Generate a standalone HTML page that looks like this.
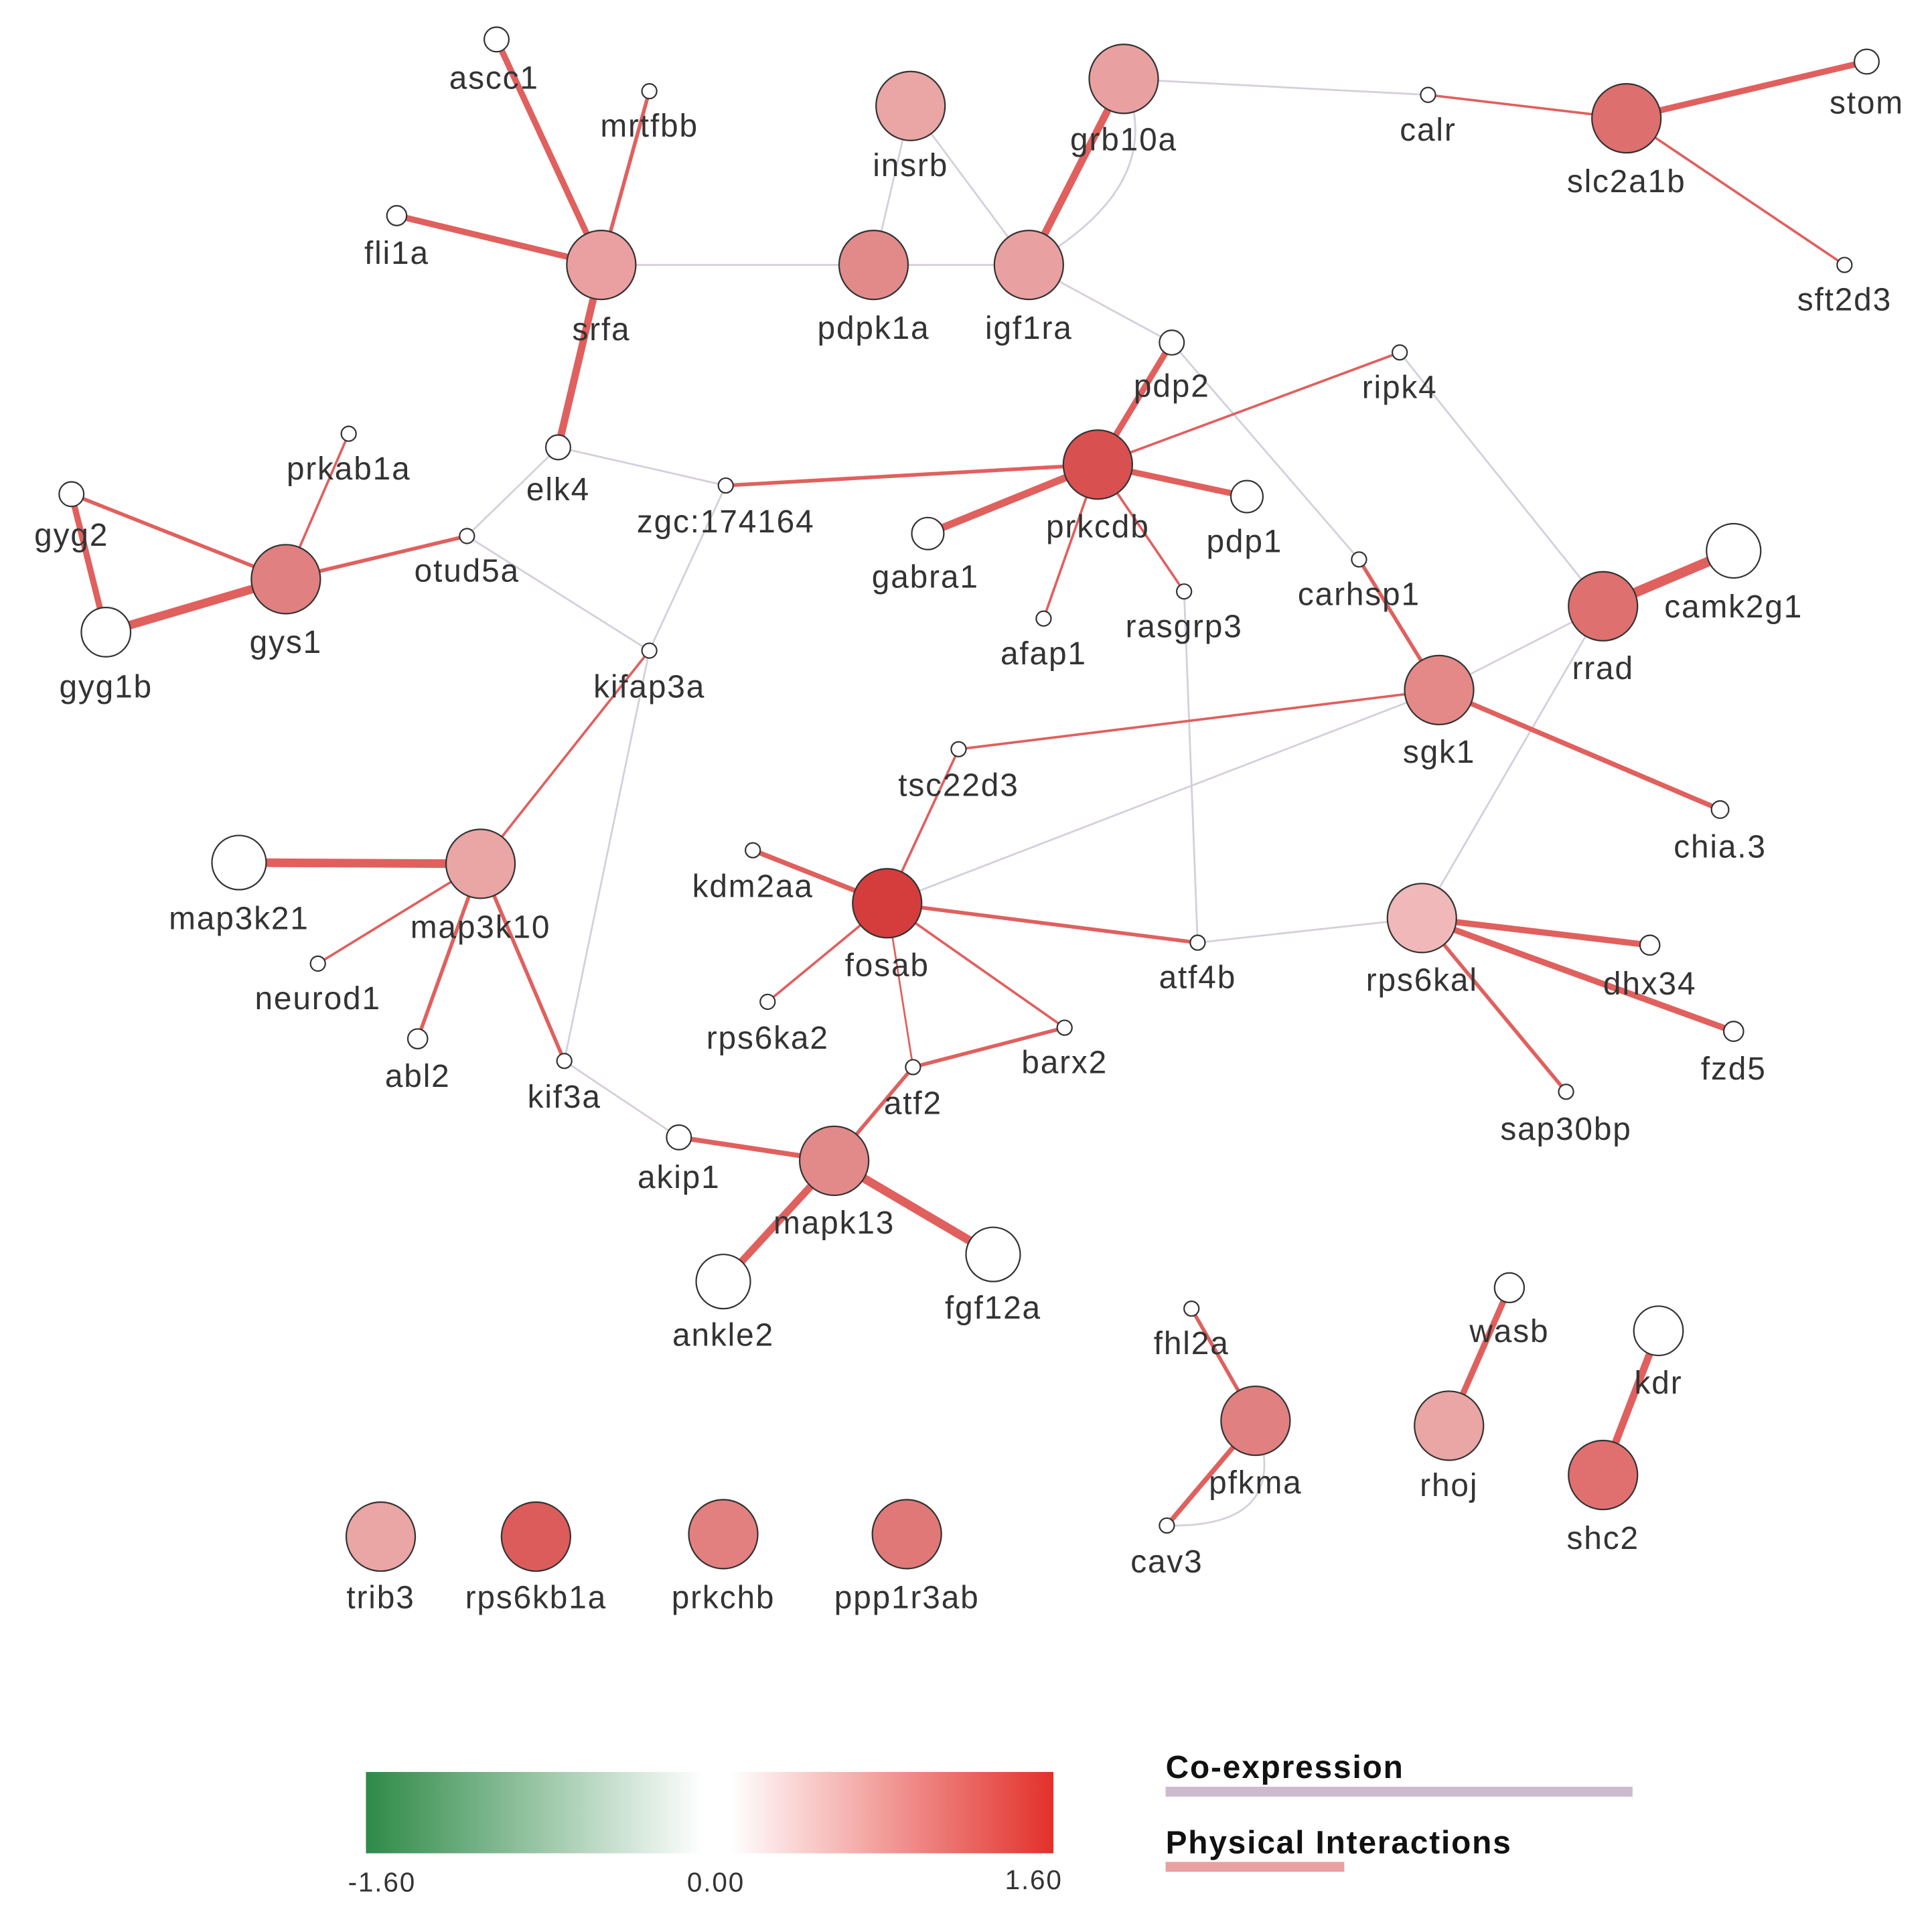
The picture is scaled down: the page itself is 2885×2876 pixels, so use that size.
<!DOCTYPE html>
<html><head><meta charset="utf-8"><style>html,body{margin:0;padding:0;background:#fff}svg{display:block}text{font-family:"Liberation Sans",sans-serif;font-size:26px;fill:#333;text-anchor:middle;letter-spacing:1px}</style></head><body>
<svg width="2885" height="2876" viewBox="0 0 1568 1563" preserveAspectRatio="none" xmlns="http://www.w3.org/2000/svg">
<defs><linearGradient id="g" x1="0" x2="1"><stop offset="0" stop-color="#2e8a47"/><stop offset="0.49" stop-color="#fff"/><stop offset="0.53" stop-color="#fff"/><stop offset="1" stop-color="#e3302a"/></linearGradient></defs>
<g stroke="#d5cedb" stroke-width="1.5" fill="none">
<line x1="488" y1="215" x2="709" y2="215"/><line x1="709" y1="215" x2="835" y2="215"/><line x1="739" y1="86" x2="709" y2="215"/><line x1="739" y1="86" x2="835" y2="215"/><line x1="912" y1="64" x2="1159" y2="77"/><path d="M912 64 Q950 150 835 215"/><line x1="835" y1="215" x2="951" y2="278"/><line x1="951" y1="278" x2="1103" y2="454"/><line x1="1136" y1="286" x2="1301" y2="492"/><line x1="453" y1="363" x2="589" y2="394"/><line x1="453" y1="363" x2="379" y2="435"/><line x1="379" y1="435" x2="527" y2="528"/><line x1="589" y1="394" x2="527" y2="528"/><line x1="527" y1="528" x2="458" y2="861"/><line x1="458" y1="861" x2="551" y2="923"/><line x1="961" y1="480" x2="972" y2="765"/><line x1="972" y1="765" x2="1154" y2="745"/><line x1="720" y1="733" x2="1168" y2="560"/><line x1="1168" y1="560" x2="1301" y2="492"/><line x1="1301" y1="492" x2="1154" y2="745"/><path d="M1019 1153 Q1050 1240 947 1238"/>
</g>
<g stroke="#e0605e" stroke-linecap="round" fill="none">
<line x1="403" y1="32" x2="488" y2="215" stroke-width="5"/><line x1="527" y1="74" x2="488" y2="215" stroke-width="3"/><line x1="322" y1="175" x2="488" y2="215" stroke-width="5"/><line x1="488" y1="215" x2="453" y2="363" stroke-width="6"/><line x1="912" y1="64" x2="835" y2="215" stroke-width="6"/><line x1="1159" y1="77" x2="1320" y2="96" stroke-width="2"/><line x1="1320" y1="96" x2="1515" y2="50" stroke-width="5"/><line x1="1320" y1="96" x2="1497" y2="215" stroke-width="2"/>
<line x1="891" y1="377" x2="951" y2="278" stroke-width="5"/><line x1="891" y1="377" x2="1136" y2="286" stroke-width="2"/><line x1="891" y1="377" x2="1012" y2="403" stroke-width="5"/><line x1="891" y1="377" x2="753" y2="433" stroke-width="6"/><line x1="891" y1="377" x2="847" y2="502" stroke-width="2"/><line x1="891" y1="377" x2="961" y2="480" stroke-width="2"/><line x1="891" y1="377" x2="589" y2="394" stroke-width="3"/>
<line x1="58" y1="401" x2="232" y2="470" stroke-width="3"/><line x1="58" y1="401" x2="86" y2="513" stroke-width="5"/><line x1="86" y1="513" x2="232" y2="470" stroke-width="7"/><line x1="283" y1="352" x2="232" y2="470" stroke-width="2"/><line x1="379" y1="435" x2="232" y2="470" stroke-width="3"/>
<line x1="1103" y1="454" x2="1168" y2="560" stroke-width="3"/><line x1="1301" y1="492" x2="1407" y2="447" stroke-width="8"/><line x1="1168" y1="560" x2="1396" y2="657" stroke-width="4"/><line x1="1168" y1="560" x2="778" y2="608" stroke-width="2"/><line x1="778" y1="608" x2="720" y2="733" stroke-width="2"/>
<line x1="194" y1="700" x2="390" y2="701" stroke-width="7"/><line x1="390" y1="701" x2="527" y2="528" stroke-width="2"/><line x1="390" y1="701" x2="258" y2="782" stroke-width="2"/><line x1="390" y1="701" x2="339" y2="843" stroke-width="3"/><line x1="390" y1="701" x2="458" y2="861" stroke-width="3"/>
<line x1="720" y1="733" x2="611" y2="690" stroke-width="4"/><line x1="720" y1="733" x2="623" y2="813" stroke-width="2"/><line x1="720" y1="733" x2="972" y2="765" stroke-width="3"/><line x1="720" y1="733" x2="864" y2="834" stroke-width="2"/><line x1="720" y1="733" x2="741" y2="866" stroke-width="1.5"/><line x1="741" y1="866" x2="864" y2="834" stroke-width="3"/><line x1="741" y1="866" x2="677" y2="942" stroke-width="3"/>
<line x1="1154" y1="745" x2="1339" y2="767" stroke-width="5"/><line x1="1154" y1="745" x2="1407" y2="837" stroke-width="5"/><line x1="1154" y1="745" x2="1271" y2="886" stroke-width="3"/>
<line x1="551" y1="923" x2="677" y2="942" stroke-width="4"/><line x1="677" y1="942" x2="587" y2="1040" stroke-width="6"/><line x1="677" y1="942" x2="806" y2="1018" stroke-width="7"/>
<line x1="967" y1="1062" x2="1019" y2="1153" stroke-width="3"/><line x1="1019" y1="1153" x2="947" y2="1238" stroke-width="4"/><line x1="1225" y1="1045" x2="1176" y2="1157" stroke-width="5"/><line x1="1346" y1="1080" x2="1301" y2="1197" stroke-width="6"/>
</g>
<g stroke="#333" stroke-width="1.2">
<circle cx="403" cy="32" r="10" fill="#fff"/><circle cx="527" cy="74" r="6" fill="#fff"/><circle cx="322" cy="175" r="8" fill="#fff"/><circle cx="488" cy="215" r="28" fill="#eaa0a0"/><circle cx="739" cy="86" r="28" fill="#eaa5a5"/><circle cx="912" cy="64" r="28" fill="#e9a0a0"/><circle cx="1159" cy="77" r="6" fill="#fff"/><circle cx="1320" cy="96" r="28" fill="#de6f6f"/><circle cx="1515" cy="50" r="10" fill="#fff"/><circle cx="1497" cy="215" r="6" fill="#fff"/><circle cx="709" cy="215" r="28" fill="#e28a8a"/><circle cx="835" cy="215" r="28" fill="#e9a0a0"/><circle cx="951" cy="278" r="10" fill="#fff"/><circle cx="1136" cy="286" r="6" fill="#fff"/><circle cx="891" cy="377" r="28" fill="#d85050"/><circle cx="1012" cy="403" r="13" fill="#fff"/><circle cx="753" cy="433" r="13" fill="#fff"/><circle cx="847" cy="502" r="6" fill="#fff"/><circle cx="961" cy="480" r="6" fill="#fff"/><circle cx="453" cy="363" r="10" fill="#fff"/><circle cx="589" cy="394" r="6" fill="#fff"/><circle cx="283" cy="352" r="6" fill="#fff"/><circle cx="58" cy="401" r="10" fill="#fff"/><circle cx="379" cy="435" r="6" fill="#fff"/><circle cx="232" cy="470" r="28" fill="#e08080"/><circle cx="86" cy="513" r="20" fill="#fff"/><circle cx="527" cy="528" r="6" fill="#fff"/><circle cx="1103" cy="454" r="6" fill="#fff"/><circle cx="1301" cy="492" r="28" fill="#de7070"/><circle cx="1407" cy="447" r="22" fill="#fff"/><circle cx="1168" cy="560" r="28" fill="#e48888"/><circle cx="1396" cy="657" r="7" fill="#fff"/><circle cx="778" cy="608" r="6" fill="#fff"/><circle cx="194" cy="700" r="22" fill="#fff"/><circle cx="390" cy="701" r="28" fill="#eaa5a5"/><circle cx="611" cy="690" r="6" fill="#fff"/><circle cx="720" cy="733" r="28" fill="#d53d3d"/><circle cx="258" cy="782" r="6" fill="#fff"/><circle cx="339" cy="843" r="8" fill="#fff"/><circle cx="972" cy="765" r="6" fill="#fff"/><circle cx="1154" cy="745" r="28" fill="#f0b8b8"/><circle cx="1339" cy="767" r="8" fill="#fff"/><circle cx="623" cy="813" r="6" fill="#fff"/><circle cx="864" cy="834" r="6" fill="#fff"/><circle cx="741" cy="866" r="6" fill="#fff"/><circle cx="458" cy="861" r="6" fill="#fff"/><circle cx="1407" cy="837" r="8" fill="#fff"/><circle cx="1271" cy="886" r="6" fill="#fff"/><circle cx="551" cy="923" r="10" fill="#fff"/><circle cx="677" cy="942" r="28" fill="#e28a8a"/><circle cx="806" cy="1018" r="22" fill="#fff"/><circle cx="587" cy="1040" r="22" fill="#fff"/><circle cx="967" cy="1062" r="6" fill="#fff"/><circle cx="1225" cy="1045" r="12" fill="#fff"/><circle cx="1346" cy="1080" r="20" fill="#fff"/><circle cx="1019" cy="1153" r="28" fill="#e08080"/><circle cx="1176" cy="1157" r="28" fill="#eaa5a5"/><circle cx="1301" cy="1197" r="28" fill="#e07070"/><circle cx="947" cy="1238" r="6" fill="#fff"/><circle cx="309" cy="1247" r="28" fill="#eaa5a5"/><circle cx="435" cy="1247" r="28" fill="#dc5c5c"/><circle cx="587" cy="1245" r="28" fill="#e28080"/><circle cx="736" cy="1245" r="28" fill="#e07878"/>
</g>
<g>
<text x="401" y="72">ascc1</text><text x="527" y="111">mrtfbb</text><text x="322" y="214">fli1a</text><text x="488" y="276">srfa</text><text x="739" y="143">insrb</text><text x="912" y="122">grb10a</text><text x="1159" y="114">calr</text><text x="1320" y="156">slc2a1b</text><text x="1515" y="92">stom</text><text x="1497" y="252">sft2d3</text><text x="709" y="275">pdpk1a</text><text x="835" y="275">igf1ra</text><text x="951" y="322">pdp2</text><text x="1136" y="323">ripk4</text><text x="891" y="436">prkcdb</text><text x="1010" y="448">pdp1</text><text x="751" y="477">gabra1</text><text x="847" y="539">afap1</text><text x="961" y="517">rasgrp3</text><text x="453" y="406">elk4</text><text x="589" y="432">zgc:174164</text><text x="283" y="389">prkab1a</text><text x="58" y="443">gyg2</text><text x="379" y="472">otud5a</text><text x="232" y="530">gys1</text><text x="86" y="566">gyg1b</text><text x="527" y="566">kifap3a</text><text x="1103" y="491">carhsp1</text><text x="1301" y="551">rrad</text><text x="1407" y="501">camk2g1</text><text x="1168" y="619">sgk1</text><text x="1396" y="696">chia.3</text><text x="778" y="646">tsc22d3</text><text x="194" y="754">map3k21</text><text x="390" y="761">map3k10</text><text x="611" y="728">kdm2aa</text><text x="720" y="792">fosab</text><text x="258" y="819">neurod1</text><text x="339" y="882">abl2</text><text x="972" y="802">atf4b</text><text x="1154" y="804">rps6kal</text><text x="1339" y="807">dhx34</text><text x="623" y="851">rps6ka2</text><text x="864" y="871">barx2</text><text x="741" y="904">atf2</text><text x="458" y="899">kif3a</text><text x="1407" y="876">fzd5</text><text x="1271" y="925">sap30bp</text><text x="551" y="964">akip1</text><text x="677" y="1001">mapk13</text><text x="806" y="1070">fgf12a</text><text x="587" y="1092">ankle2</text><text x="967" y="1099">fhl2a</text><text x="1225" y="1089">wasb</text><text x="1346" y="1131">kdr</text><text x="1019" y="1212">pfkma</text><text x="1176" y="1214">rhoj</text><text x="1301" y="1257">shc2</text><text x="947" y="1276">cav3</text><text x="309" y="1305">trib3</text><text x="435" y="1305">rps6kb1a</text><text x="587" y="1305">prkchb</text><text x="736" y="1305">ppp1r3ab</text>
</g>
<rect x="297" y="1438" width="558" height="66" fill="url(#g)"/>
<g style="font-size:22px;letter-spacing:0">
<text x="310" y="1535" style="font-size:22px">-1.60</text><text x="581" y="1535" style="font-size:22px">0.00</text><text x="839" y="1533" style="font-size:22px">1.60</text>
<text x="946" y="1443" style="font-size:26px;font-weight:bold;text-anchor:start;fill:#111">Co-expression</text>
<text x="946" y="1504" style="font-size:26px;font-weight:bold;text-anchor:start;fill:#111">Physical Interactions</text>
</g>
<rect x="946" y="1450" width="379" height="8" fill="#cdbacd"/>
<rect x="946" y="1511" width="145" height="8" fill="#e9a0a0"/>
</svg>
</body></html>
